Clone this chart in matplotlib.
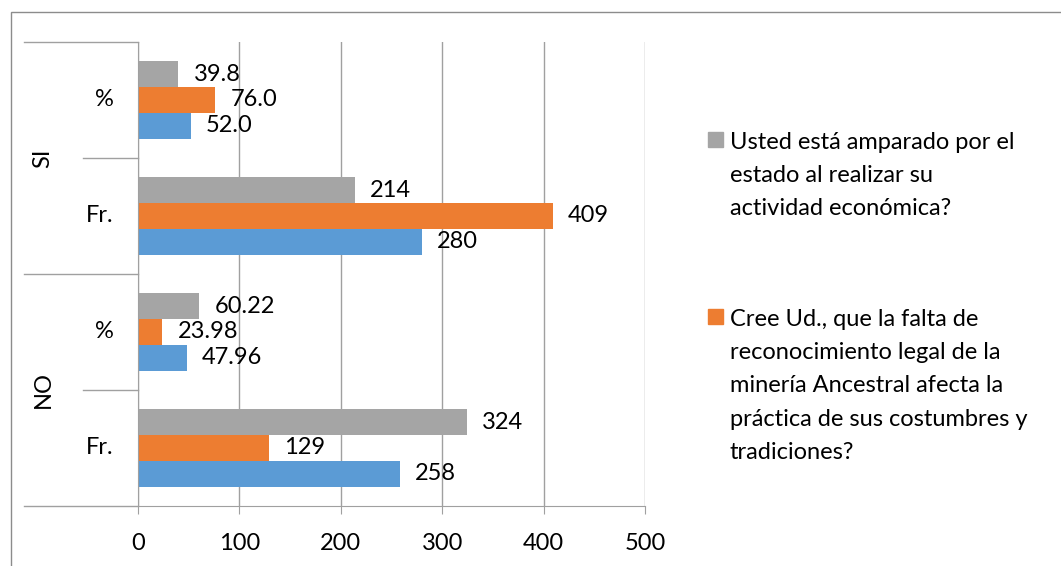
import numpy as np
import matplotlib
matplotlib.use("Agg")
import matplotlib.pyplot as plt
from matplotlib.patches import Rectangle
from matplotlib.transforms import blended_transform_factory

# Data (bottom to top: NO Fr., NO %, SI Fr., SI %)
groups = ["NO", "SI"]
subcats = ["Fr.", "%", "Fr.", "%"]
blue_vals = [258, 47.96, 280, 52.0]
orange_vals = [129, 23.98, 409, 76.0]
gray_vals = [324, 60.22, 214, 39.8]
label_fmts = ["{:.0f}", "{:.2f}", "{:.0f}", "{:.1f}"]
x_ticks = [0, 100, 200, 300, 400, 500]
legend_gray = "Usted está amparado por el\nestado al realizar su\nactividad económica?"
legend_orange = ("Cree Ud., que la falta de\nreconocimiento legal de la\n"
                 "minería Ancestral afecta la\npráctica de sus costumbres y\ntradiciones?")

BLUE = "#5b9bd5"
ORANGE = "#ed7d31"
GRAY = "#a5a5a5"
LINE = "#a0a0a0"
FS = 17

plt.rcParams["font.family"] = ["Lato", "DejaVu Sans"]

W, H = 1061, 566
fig = plt.figure(figsize=(W / 100, H / 100), dpi=100)
ax = fig.add_axes([138 / W, 1 - 506 / H, (645 - 138) / W, (506 - 42) / H])

# outer chart frame
fig.patches.append(Rectangle((11 / W, -0.05), 1.1, 1 - 12 / H + 0.05,
                             transform=fig.transFigure, fill=False,
                             edgecolor="#8c8c8c", lw=1))

h = 1 / 4.5
y = np.arange(len(subcats))
series = [(blue_vals, BLUE, -h), (orange_vals, ORANGE, 0), (gray_vals, GRAY, h)]
for vals, color, off in series:
    ax.barh(y + off, vals, h, color=color, zorder=2)
    for i, v in enumerate(vals):
        ax.annotate(label_fmts[i].format(v), (v, y[i] + off), xytext=(11, 0),
                    textcoords="offset points", ha="left", va="center",
                    fontsize=FS, zorder=3)

ax.set_xlim(0, 500)
ax.set_ylim(-0.5, 3.5)
ax.set_xticks(x_ticks)
ax.set_yticks([])
ax.grid(axis="x", color=LINE, lw=1)
ax.set_axisbelow(True)
for s in ["top", "right"]:
    ax.spines[s].set_visible(False)
for s in ["left", "bottom"]:
    ax.spines[s].set_color(LINE)
ax.tick_params(axis="x", direction="out", length=5.5, color=LINE,
               labelsize=FS, pad=14)

# multi-level category axis
trans = blended_transform_factory(fig.transFigure, ax.transData)
for yb, x0 in [(-0.5, 24), (0.5, 83), (1.5, 24), (2.5, 83), (3.5, 24)]:
    ax.plot([x0 / W, 138 / W], [yb, yb], transform=trans, color=LINE, lw=1,
            clip_on=False)
for i, s in enumerate(subcats):
    ax.text(114 / W, y[i], s, transform=trans, ha="right", va="center", fontsize=FS)
for j, g in enumerate(groups):
    ax.text(43 / W, 2 * j + 0.5, g, transform=trans, ha="center", va="center",
            rotation=90, fontsize=FS)

# legend (blue entry is not shown in the original)
for label, color, ytop in [(legend_gray, GRAY, 132), (legend_orange, ORANGE, 309)]:
    fig.patches.append(Rectangle((708 / W, 1 - (ytop + 15) / H), 15 / W, 15 / H,
                                 transform=fig.transFigure, color=color))
    fig.text(730 / W, 1 - ytop / H, label, ha="left", va="top",
             fontsize=FS, linespacing=1.72)

fig.savefig("out.png", dpi=100)
